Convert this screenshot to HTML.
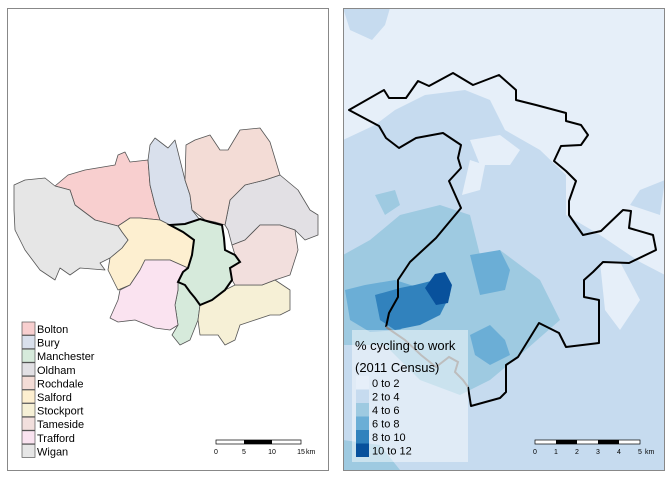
<!DOCTYPE html>
<html><head><meta charset="utf-8"><style>
body{margin:0;background:#fff;font-family:"Liberation Sans",sans-serif}
svg text{font-family:"Liberation Sans",sans-serif}
</style></head><body>
<svg id="s" width="672" height="480" viewBox="0 0 672 480">
<g>
<rect x="7.5" y="8.5" width="321" height="462" fill="#fff" stroke="#888"/>
<g id="boroughs" stroke="#555" stroke-width="0.8" stroke-linejoin="round"></g>
<path d="M170,225 L185,224 L200,219 L210,222 L222,225 L224,238 L225,250 L235,255 L240,262 L230,268 L232,280 L225,290 L212,300 L200,305 L195,298 L190,292 L185,285 L178,282 L183,272 L188,268 L192,255 L194,240 L183,232 Z" fill="none" stroke="#000" stroke-width="2"/>
<g id="leg1"></g>
<g>
<rect x="216" y="440" width="85" height="4" fill="#fff" stroke="#000" stroke-width="0.7"/>
<rect x="244" y="440" width="28" height="4" fill="#000"/>
<text x="216" y="454" font-size="7" text-anchor="middle">0</text>
<text x="244" y="454" font-size="7" text-anchor="middle">5</text>
<text x="272" y="454" font-size="7" text-anchor="middle">10</text>
<text x="301" y="454" font-size="7" text-anchor="middle">15</text>
<text x="306" y="454" font-size="7">km</text>
</g>
</g>
<g>
<clipPath id="rc"><rect x="343" y="8" width="322" height="462"/></clipPath>
<g clip-path="url(#rc)">
<rect x="343" y="8" width="322" height="462" fill="#e6eff9"/>
<g id="zones"></g>
<path d="M468,387 L471,406 L500,398 L506,392 L506,365 L518,357 L539,323 L559,333 L566,347 L599,343 L599,300 L584,297 L584,280 L593,272 L603,262 L629,263 L656,250 L653,235 L629,228 L631,211 L623,210 L601,231 L583,235 L569,215 L569,201 L576,181 L566,171 L554,161 L561,146 L581,145 L588,135 L581,125 L566,121 L566,113 L536,105 L516,100 L516,90 L499,75 L473,85 L453,73 L429,86 L418,81 L406,98 L389,98 L384,90 L349,110 L379,126 L386,138 L399,148 L416,138 L443,133 L461,145 L458,158 L461,168 L449,181 L461,208 L436,238 L410,262 L398,280 L398,297 L389,313 L386,327" fill="none" stroke="#000" stroke-width="2" stroke-linejoin="round"/>
<path d="M386,327 L405,340 L421,355 L436,367 L449,357 L458,362 L455,372 L463,380 L468,387" fill="none" stroke="#888" stroke-width="2"/>
<rect x="352" y="330" width="116" height="132" fill="#fff" fill-opacity="0.45"/>
<text x="355" y="350" font-size="13">% cycling to work</text>
<text x="355" y="372" font-size="13">(2011 Census)</text>
<g id="leg2"></g>
<g>
<rect x="535" y="440" width="105" height="4" fill="#fff" stroke="#000" stroke-width="0.7"/>
<rect x="556" y="440" width="21" height="4" fill="#000"/>
<rect x="598" y="440" width="21" height="4" fill="#000"/>
<text x="535" y="454" font-size="7" text-anchor="middle">0</text>
<text x="556" y="454" font-size="7" text-anchor="middle">1</text>
<text x="577" y="454" font-size="7" text-anchor="middle">2</text>
<text x="598" y="454" font-size="7" text-anchor="middle">3</text>
<text x="619" y="454" font-size="7" text-anchor="middle">4</text>
<text x="640" y="454" font-size="7" text-anchor="middle">5</text>
<text x="645" y="454" font-size="7">km</text>
</g>
</g>
<rect x="343.5" y="8.5" width="321" height="462" fill="none" stroke="#888"/>
</g>
</svg>
<script>
const NS="http://www.w3.org/2000/svg";
const boroughNames=["Bolton","Bury","Manchester","Oldham","Rochdale","Salford","Stockport","Tameside","Trafford","Wigan"];
const boroughColors=["#f8cfcf","#d9e0ec","#d6eadb","#e2e0e4","#f3dcd6","#fdefd0","#f6f0d6","#f2dfdd","#fae3f0","#e6e6e6"];
const boroughShapes={
Wigan:"14,185 25,180 45,178 55,186 70,190 75,205 95,220 118,226 122,232 128,240 122,248 110,258 100,263 105,270 80,268 70,275 60,268 55,280 40,270 25,250 15,230 14,210",
Bolton:"55,186 68,175 85,170 115,165 118,155 125,152 130,162 148,160 150,185 155,205 160,220 140,218 130,218 118,226 95,220 75,205 70,190",
Bury:"148,160 150,145 155,138 168,148 175,140 180,160 185,180 190,195 192,210 200,220 185,224 170,225 160,220 155,205 150,185",
Rochdale:"186,145 195,140 210,135 220,150 228,150 240,130 260,128 270,142 280,175 265,180 245,185 230,200 225,225 215,222 205,220 192,210 190,195 185,180",
Oldham:"245,185 265,180 280,175 298,190 310,210 318,215 318,235 305,240 295,230 280,225 260,225 245,240 232,245 228,230 225,225 230,200",
Tameside:"232,245 245,240 260,225 280,225 295,230 298,250 290,275 275,280 262,285 235,285 232,280 230,268 240,262 235,255",
Salford:"118,226 130,218 140,218 160,220 170,225 183,232 194,240 192,255 188,268 170,260 145,260 140,270 130,285 118,290 108,270 110,258 122,248 128,240 122,232",
Trafford:"145,260 170,260 188,268 183,272 178,282 178,290 175,305 178,325 170,330 155,328 135,320 118,322 110,318 118,300 120,290 130,285 140,270",
Manchester:"170,225 185,224 200,219 222,225 225,250 235,255 240,262 230,268 232,280 225,290 212,300 200,305 198,320 190,340 180,345 172,335 178,325 175,305 178,290 178,282 183,272 188,268 192,255 194,240 183,232",
Stockport:"200,305 212,300 225,290 235,285 262,285 275,280 290,290 290,310 280,315 270,315 255,320 240,325 235,340 225,345 218,335 200,335 198,320"};
const bg=document.getElementById("boroughs");
boroughNames.forEach((n,i)=>{
 const p=document.createElementNS(NS,"polygon");
 p.setAttribute("points",boroughShapes[n]);
 p.setAttribute("fill",boroughColors[i]);
 
 
 bg.appendChild(p);
});
const l1=document.getElementById("leg1");
boroughNames.forEach((n,i)=>{
 const y=322+i*13.6;
 const r=document.createElementNS(NS,"rect");
 r.setAttribute("x",22);r.setAttribute("y",y);r.setAttribute("width",13);r.setAttribute("height",13);
 r.setAttribute("fill",boroughColors[i]);r.setAttribute("stroke","#555");r.setAttribute("stroke-width","0.7");
 
 
 l1.appendChild(r);
 const t=document.createElementNS(NS,"text");
 t.setAttribute("x",37);t.setAttribute("y",y+11);t.setAttribute("font-size","11");t.textContent=n;
 
 
 l1.appendChild(t);
});
const classLabels=["0 to 2","2 to 4","4 to 6","6 to 8","8 to 10","10 to 12"];
const classColors=["#e6eff9","#c6dbef","#9ecae1","#6baed6","#3182bd","#08519c"];
const zoneClass=[1,1,1,0,0,0,2,2,3,3,4,5,3,0,0,1,2];
const zoneShapes=[
"343,140 375,125 395,110 425,95 465,90 490,100 505,130 540,150 566,175 566,215 600,235 640,262 665,275 665,470 343,470",
"343,8 390,8 385,25 372,40 350,30",
"665,180 640,190 630,205 660,215",
"470,140 500,135 520,150 510,165 480,165",
"600,262 620,262 640,300 620,330 605,310",
"470,160 485,165 480,190 462,195",
"343,255 370,240 400,215 440,205 470,215 480,255 500,250 520,265 540,280 560,320 520,355 490,380 460,395 420,380 385,345 343,345",
"375,195 395,190 400,205 385,215",
"345,290 365,285 395,280 420,288 440,300 400,330 370,332 350,320",
"470,335 490,325 505,340 510,355 490,365 475,355",
"375,295 400,288 415,285 435,280 450,295 440,315 420,325 395,330 380,320",
"425,288 435,274 445,272 452,285 448,303 436,305",
"470,255 500,250 510,270 505,290 480,295",
"343,70 350,68 358,100 343,102",
"600,150 615,150 630,180 610,190 598,170",
"343,160 360,165 362,185 343,190",
"343,440 380,445 400,470 343,470"];
const zg=document.getElementById("zones");
zoneShapes.forEach((s,i)=>{
 const p=document.createElementNS(NS,"polygon");
 p.setAttribute("points",s);p.setAttribute("fill",classColors[zoneClass[i]]);
 
 
 zg.appendChild(p);
});
const l2=document.getElementById("leg2");
classLabels.forEach((n,i)=>{
 const y=376+i*13.5;
 const r=document.createElementNS(NS,"rect");
 r.setAttribute("x",356);r.setAttribute("y",y);r.setAttribute("width",13);r.setAttribute("height",13.5);
 r.setAttribute("fill",classColors[i]);
 
 
 l2.appendChild(r);
 const t=document.createElementNS(NS,"text");
 t.setAttribute("x",372);t.setAttribute("y",y+11);t.setAttribute("font-size","11");t.textContent=n;
 
 
 l2.appendChild(t);
});
</script>
</body></html>
